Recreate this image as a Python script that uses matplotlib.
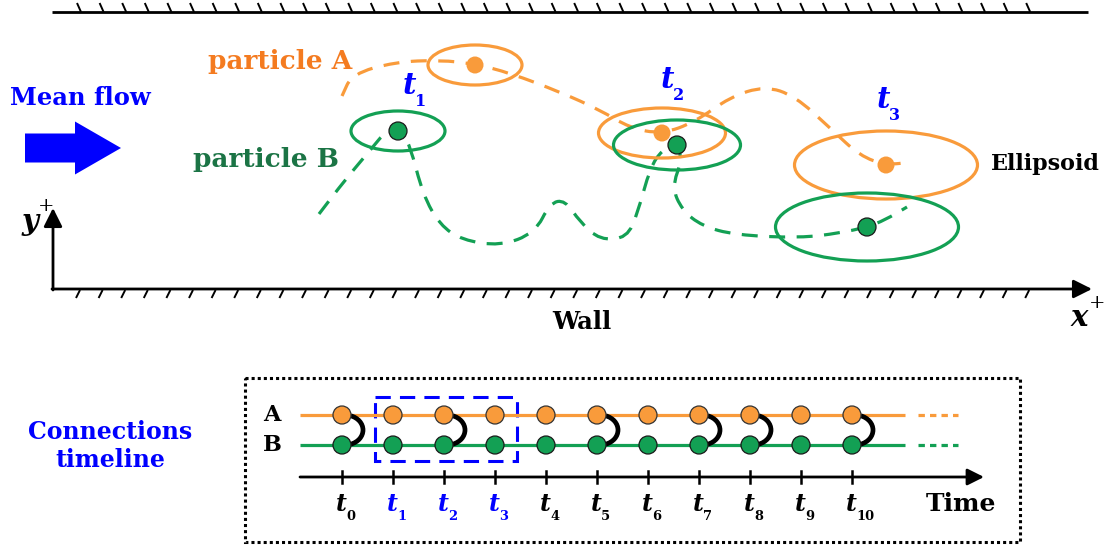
import matplotlib
matplotlib.use("Agg")
import matplotlib.pyplot as plt
import numpy as np
from matplotlib.patches import Ellipse, Circle, Rectangle, Arc, FancyArrow, PathPatch
from matplotlib.path import Path
from matplotlib.collections import LineCollection

plt.rcParams['font.family'] = 'DejaVu Serif'

ORANGE = '#f99b3b'
GREEN = '#13a054'
BLUE = '#0000ff'

# sketch is laid out in pixel units (x right, y down)
# particle positions at t1, t2, t3
pos_a = [(475, 65), (662, 133), (886, 165)]
pos_b = [(398, 131), (677, 145), (867, 227)]
# ellipsoid sizes at t1, t2, t3
ell_w = [94, 127, 183]
ell_h = [40, 50, 68]
t_top_subs = ['1', '2', '3']
t_top_pos = [(409, 86), (667, 80), (883, 100)]

# trajectory control points
path_a = [(342, 96), (352, 74), (395, 62), (440, 60), (475, 64), (510, 73),
          (560, 92), (600, 110), (630, 128), (662, 134), (695, 122), (730, 97),
          (765, 86), (795, 96), (830, 128), (860, 156), (886, 165), (912, 162)]
path_b = [(319, 214), (345, 180), (372, 148), (386, 131), (399, 127), (410, 145),
          (423, 195), (440, 225), (462, 240), (500, 246), (535, 233), (550, 203),
          (565, 200), (580, 222), (600, 240), (627, 238), (638, 212), (650, 168),
          (662, 150), (677, 143), (682, 160), (672, 187), (682, 210), (702, 226),
          (735, 235), (800, 238), (840, 233), (867, 227), (885, 220), (907, 207)]

# connections timeline
t_index = np.arange(11)
connected = [1, 0, 1, 0, 0, 1, 0, 1, 1, 0, 1]
highlight = [1, 2, 3]


def smooth_path(pts):
    pts = np.asarray(pts, dtype=float)
    verts = [pts[0], (pts[0] + pts[1]) / 2]
    codes = [Path.MOVETO, Path.LINETO]
    for i in range(1, len(pts) - 1):
        verts += [pts[i], (pts[i] + pts[i + 1]) / 2]
        codes += [Path.CURVE3, Path.CURVE3]
    verts.append(pts[-1])
    codes.append(Path.LINETO)
    return Path(verts, codes)


def t_label(ax, x, y, sub, size, color):
    # bold italic t with a small, low subscript (LaTeX look)
    ax.text(x, y, 't', fontsize=size, fontstyle='italic', fontweight='bold',
            color=color, ha='center', va='center')
    ax.text(x + size * 0.3, y + size * 0.72, sub, fontsize=size * 0.55,
            fontweight='bold', color=color, ha='left', va='center')


fig = plt.figure(figsize=(11.1, 5.5), dpi=100)
ax = fig.add_axes([0, 0, 1, 1])
ax.set_xlim(0, 1110)
ax.set_ylim(550, 0)
ax.axis('off')

# walls
ax.plot([52, 1088], [12, 12], color='k', lw=2, solid_capstyle='butt')
hx = np.arange(77, 1040, 22.6)
ax.add_collection(LineCollection([[(x, 3), (x + 4, 12)] for x in hx], colors='k', lw=1.4))
ax.add_collection(LineCollection([[(x + 3, 290), (x - 1, 298)] for x in hx], colors='k', lw=1.4))
ax.annotate('', xy=(1092, 289), xytext=(52, 289),
            arrowprops=dict(arrowstyle='-|>', lw=2, color='k', mutation_scale=28,
                            shrinkA=0, shrinkB=0))
ax.annotate('', xy=(53, 208), xytext=(53, 290),
            arrowprops=dict(arrowstyle='-|>', lw=2, color='k', mutation_scale=28,
                            shrinkA=0, shrinkB=0))
ax.text(30, 222, 'y', fontsize=21, fontstyle='italic', fontweight='bold',
        ha='center', va='center')
ax.text(46, 206, '+', fontsize=14, ha='center', va='center')
ax.text(1079, 318, 'x', fontsize=21, fontstyle='italic', fontweight='bold',
        ha='center', va='center')
ax.text(1097, 303, '+', fontsize=14, ha='center', va='center')
ax.text(582, 322, 'Wall', fontsize=17.5, fontweight='bold', ha='center', va='center')

# mean flow
ax.add_patch(FancyArrow(25, 148, 96, 0, width=29, head_width=53, head_length=46,
                        length_includes_head=True, color=BLUE, lw=0))
ax.text(80, 98, 'Mean flow', fontsize=17.5, fontweight='bold', color=BLUE,
        ha='center', va='center')

# trajectories
dash = (0, (5, 3.6))
ax.add_patch(PathPatch(smooth_path(path_a), fill=False, ec=ORANGE, lw=2.3, ls=dash))
ax.add_patch(PathPatch(smooth_path(path_b), fill=False, ec=GREEN, lw=2.3, ls=dash))

for (xa, ya), (xb, yb), w, h in zip(pos_a, pos_b, ell_w, ell_h):
    ax.add_patch(Ellipse((xa, ya), w, h, fill=False, ec=ORANGE, lw=2.3, zorder=3))
    ax.add_patch(Ellipse((xb, yb), w, h, fill=False, ec=GREEN, lw=2.3, zorder=3))
    ax.add_patch(Circle((xa, ya), 8.5, fc=ORANGE, ec='none', zorder=4))
    ax.add_patch(Circle((xb, yb), 9, fc=GREEN, ec='#1a1a1a', lw=0.9, zorder=4))

for sub, (x, y) in zip(t_top_subs, t_top_pos):
    t_label(ax, x, y, sub, 21, BLUE)

ax.text(280, 62, 'particle A', fontsize=19, fontweight='bold', color='#f47b20',
        ha='center', va='center')
ax.text(266, 160, 'particle B', fontsize=19, fontweight='bold', color='#1b7445',
        ha='center', va='center')
ax.text(1045, 164, 'Ellipsoid', fontsize=16, fontweight='bold', color='k',
        ha='center', va='center')

# connections timeline
ax.add_patch(Rectangle((245, 378), 775, 164, fill=False, ec='k', lw=2.2,
                       ls=(0, (1, 1))))
ax.text(110, 446, 'Connections\ntimeline', fontsize=17, fontweight='bold',
        color=BLUE, ha='center', va='center', linespacing=1.25)

tx = 342 + 51 * t_index
ya_line, yb_line, y_axis = 415, 445, 477
ax.plot([300, 905], [ya_line, ya_line], color=ORANGE, lw=2.3, solid_capstyle='butt', zorder=2)
ax.plot([300, 905], [yb_line, yb_line], color=GREEN, lw=2.3, solid_capstyle='butt', zorder=2)
ax.plot([918, 958], [ya_line, ya_line], color=ORANGE, lw=2.3, ls=(0, (2, 1.6)))
ax.plot([918, 958], [yb_line, yb_line], color=GREEN, lw=2.3, ls=(0, (2, 1.6)))
ax.text(272, ya_line, 'A', fontsize=16, fontweight='bold', ha='center', va='center')
ax.text(272, yb_line, 'B', fontsize=16, fontweight='bold', ha='center', va='center')

ax.add_patch(Rectangle((375, 397), 142, 64, fill=False, ec=BLUE, lw=2.2,
                       ls=(0, (5, 3))))

for i, x in zip(t_index, tx):
    if connected[i]:
        ax.add_patch(Arc((x + 3, 430), 36, 30, theta1=-68, theta2=68, color='k',
                         lw=3.4, zorder=3))
    ax.add_patch(Circle((x, ya_line), 9, fc=ORANGE, ec='#333333', lw=0.9, zorder=4))
    ax.add_patch(Circle((x, yb_line), 9, fc=GREEN, ec='#1a1a1a', lw=0.9, zorder=4))
    ax.plot([x, x], [471, 483], color='k', lw=1.8)
    col = BLUE if i in highlight else 'k'
    t_label(ax, x - 1, 504, str(i), 17, col)

ax.annotate('', xy=(984, y_axis), xytext=(300, y_axis),
            arrowprops=dict(arrowstyle='-|>', lw=2, color='k', mutation_scale=25,
                            shrinkA=0, shrinkB=0))
ax.text(961, 504, 'Time', fontsize=18, fontweight='bold', ha='center', va='center')

fig.savefig('out.png', dpi=100)
plt.close(fig)
